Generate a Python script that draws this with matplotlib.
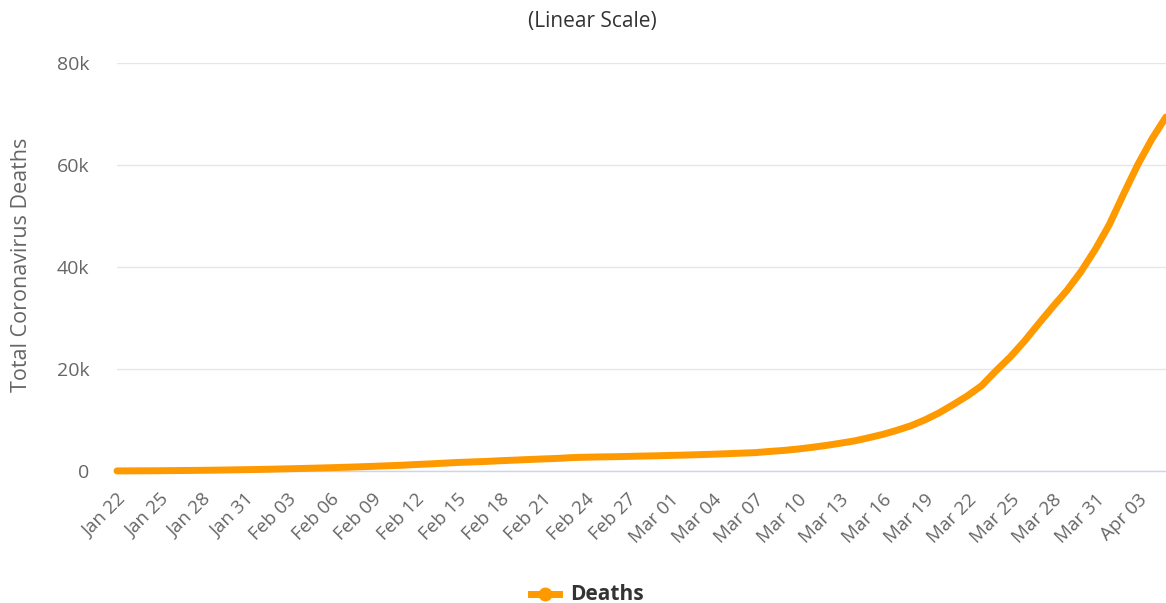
import matplotlib
matplotlib.use("Agg")
import matplotlib.pyplot as plt
import pandas as pd

plt.rcParams['font.family'] = ['Open Sans', 'DejaVu Sans']

dates = pd.date_range("2020-01-22", "2020-04-05", freq="D")
deaths = [17, 25, 41, 56, 80, 106, 132, 170, 213, 259,
          304, 362, 426, 492, 565, 638, 724, 813, 910, 1018,
          1115, 1261, 1383, 1526, 1669, 1775, 1873, 2009, 2126, 2247,
          2360, 2460, 2618, 2699, 2763, 2800, 2858, 2923, 2977, 3050,
          3117, 3202, 3285, 3387, 3494, 3599, 3827, 4025, 4296, 4628,
          5001, 5433, 5888, 6502, 7163, 7960, 8870, 10028, 11412, 13036,
          14754, 16742, 19626, 22319, 25412, 28823, 32159, 35373, 39076, 43399,
          48300, 54261, 60017, 65079, 69424]
tick_labels = ["Jan 22", "Jan 25", "Jan 28", "Jan 31", "Feb 03", "Feb 06", "Feb 09",
               "Feb 12", "Feb 15", "Feb 18", "Feb 21", "Feb 24", "Feb 27", "Mar 01",
               "Mar 04", "Mar 07", "Mar 10", "Mar 13", "Mar 16", "Mar 19", "Mar 22",
               "Mar 25", "Mar 28", "Mar 31", "Apr 03"]
y_ticks = [0, 20000, 40000, 60000, 80000]
y_tick_labels = ["0", "20k", "40k", "60k", "80k"]

W, H = 1166, 603
fig = plt.figure(figsize=(W / 100, H / 100), dpi=100)
left, right, top, bottom = 117, 1166, 63, 471
ax = fig.add_axes([left / W, 1 - bottom / H, (right - left) / W, (bottom - top) / H])

x = list(range(len(dates)))
ax.plot(x, deaths, color="#FF9900", linewidth=5.0, solid_capstyle="round", clip_on=False, zorder=3)

ax.set_xlim(0, len(dates) - 1)
ax.set_ylim(0, 80000)
ax.set_yticks(y_ticks)
ax.set_yticklabels(y_tick_labels)
ax.set_xticks(x[::3])
ax.set_xticklabels(tick_labels, rotation=45, ha="right", rotation_mode="anchor")

ax.grid(axis="y", color="#e6e6e6", linewidth=1)
ax.set_axisbelow(True)
for s in ["top", "right", "left"]:
    ax.spines[s].set_visible(False)
ax.spines["bottom"].set_color("#ccd6eb")
ax.spines["bottom"].set_linewidth(1)
ax.tick_params(axis="both", length=0, colors="#666666")
ax.tick_params(axis="y", pad=20, labelsize=14)
ax.tick_params(axis="x", pad=14, labelsize=13.5)

fig.text(22 / W, 1 - 265 / H, "Total Coronavirus Deaths", rotation=90, ha="center", va="center",
         color="#666666", fontsize=15.5)
fig.text(592 / W, 1 - 22 / H, "(Linear Scale)", ha="center", va="center", color="#333333", fontsize=15)

# legend
fig.lines.append(plt.Line2D([531 / W, 559 / W], [1 - 594 / H, 1 - 594 / H], color="#FF9900",
                            linewidth=5.0, transform=fig.transFigure))
fig.lines.append(plt.Line2D([545 / W], [1 - 594 / H], color="#FF9900", marker="o", markersize=9,
                            transform=fig.transFigure))
fig.text(570 / W, 1 - 594 / H, "Deaths", ha="left", va="center", color="#333333", fontsize=15,
         fontweight="bold")

fig.savefig("out.png", dpi=100, facecolor="white")
